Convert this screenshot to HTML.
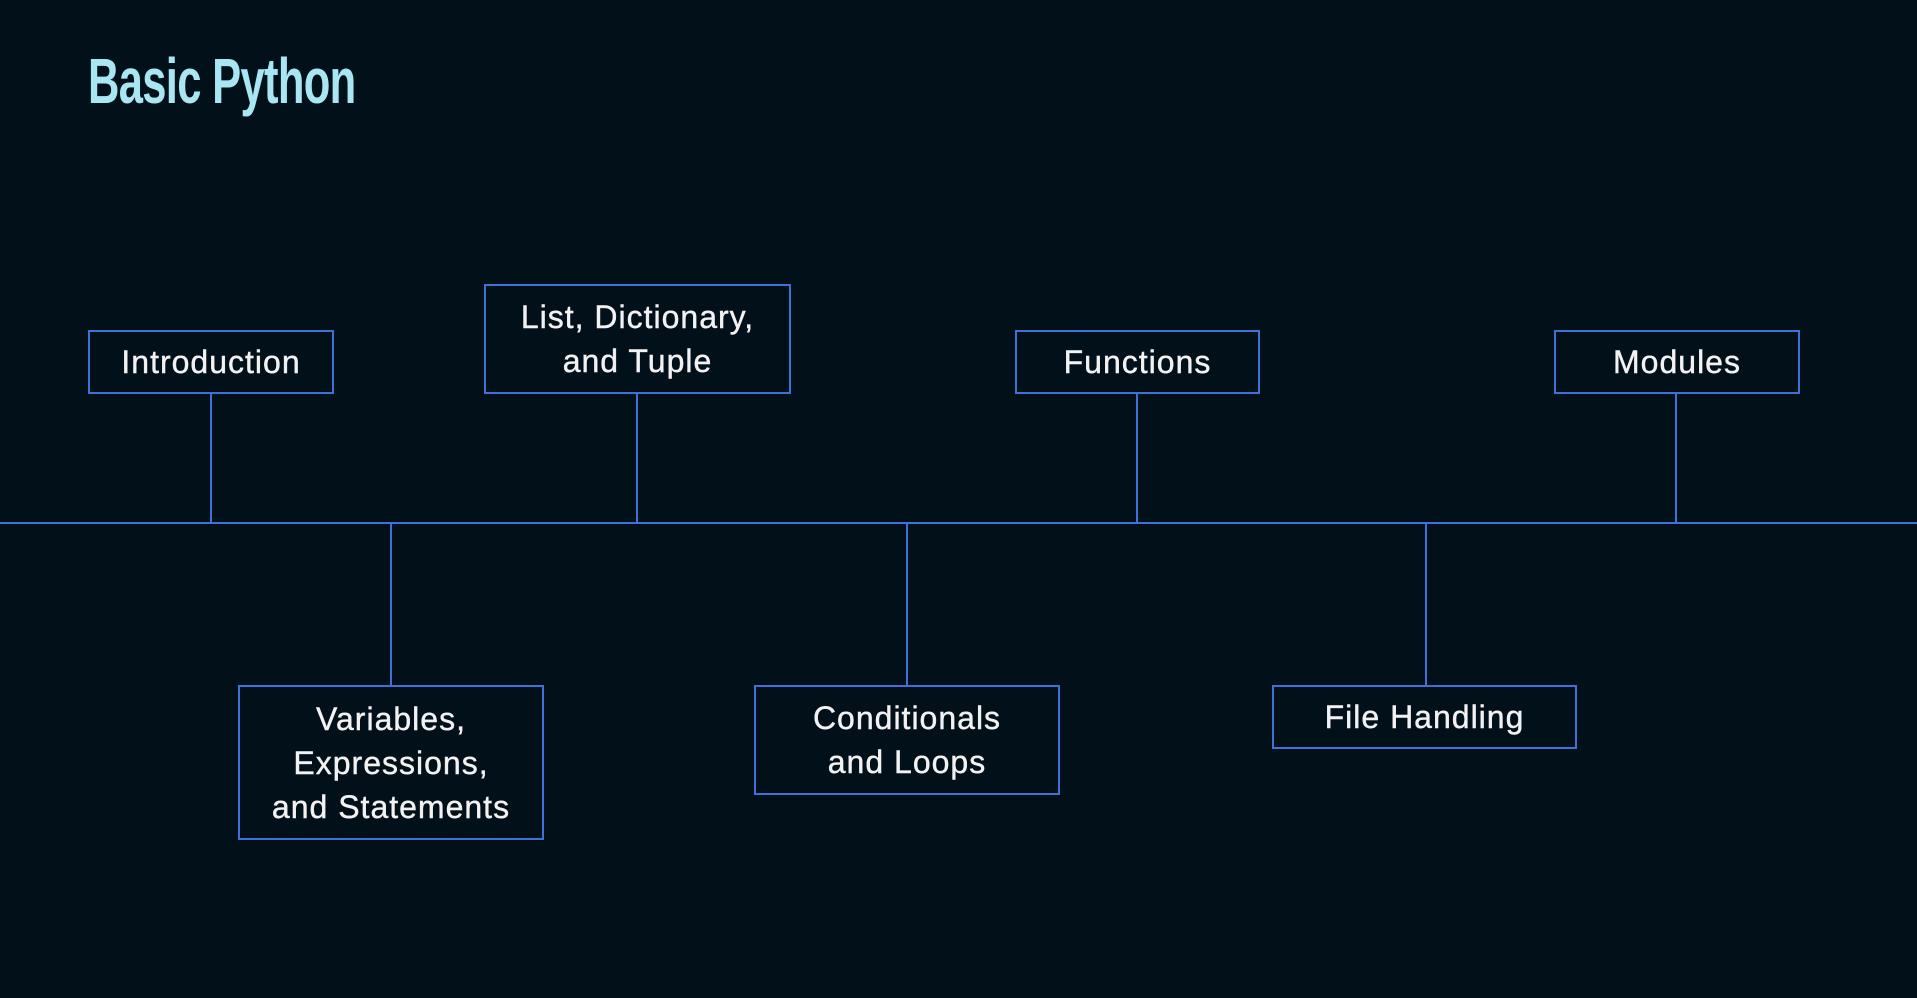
<!DOCTYPE html>
<html><head><meta charset="utf-8"><style>
html,body{margin:0;padding:0;}
body{width:1917px;height:998px;background:#02101a;position:relative;overflow:hidden;font-family:"Liberation Sans",sans-serif;}
.t{position:absolute;left:88px;top:44px;font-size:64px;font-weight:bold;color:#a9e6f4;font-family:"Liberation Sans",sans-serif;transform:scaleX(0.68);transform-origin:0 0;letter-spacing:-1px;white-space:nowrap;}
.line{position:absolute;background:#3f72d9;}
.box{position:absolute;border:2px solid #3f72d9;box-sizing:border-box;color:#f2f2f2;font-size:32px;letter-spacing:1px;display:flex;align-items:center;justify-content:center;text-align:center;line-height:44px;background:#02101a;-webkit-text-stroke:0.4px #f2f2f2;}
</style></head><body>
<div class="t">Basic Python</div>
<div class="line" style="left:0;top:522px;width:1917px;height:2px"></div>
<div class="line" style="left:210px;top:394px;width:2px;height:128px"></div>
<div class="line" style="left:636px;top:394px;width:2px;height:128px"></div>
<div class="line" style="left:1136px;top:394px;width:2px;height:128px"></div>
<div class="line" style="left:1675px;top:394px;width:2px;height:128px"></div>
<div class="line" style="left:390px;top:524px;width:2px;height:161px"></div>
<div class="line" style="left:906px;top:524px;width:2px;height:161px"></div>
<div class="line" style="left:1425px;top:524px;width:2px;height:161px"></div>
<div class="box" style="left:88px;top:330px;width:246px;height:64px">Introduction</div>
<div class="box" style="left:484px;top:284px;width:307px;height:110px">List, Dictionary,<br>and Tuple</div>
<div class="box" style="left:1015px;top:330px;width:245px;height:64px">Functions</div>
<div class="box" style="left:1554px;top:330px;width:246px;height:64px">Modules</div>
<div class="box" style="left:238px;top:685px;width:306px;height:155px">Variables,<br>Expressions,<br>and Statements</div>
<div class="box" style="left:754px;top:685px;width:306px;height:110px">Conditionals<br>and Loops</div>
<div class="box" style="left:1272px;top:685px;width:305px;height:64px">File Handling</div>
</body></html>
